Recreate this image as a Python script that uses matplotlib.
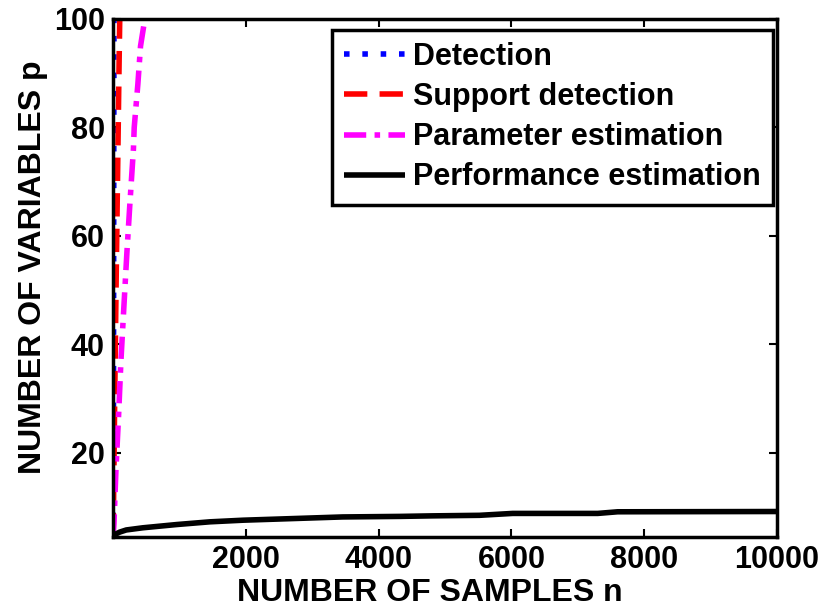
import matplotlib
matplotlib.use("Agg")
import matplotlib.pyplot as plt

# Sample-size requirements: number of samples n needed for p variables
p_levels = [4.6, 10, 20, 30, 40, 50, 60, 70, 80, 90, 100]
n_detection = [1, 4, 6, 8, 9, 10, 11, 12, 13, 14, 15]
n_support = [3, 8, 17, 26, 36, 46, 57, 68, 79, 90, 102]

p_param = [4.6, 7, 17, 27, 37, 46, 57, 66, 76, 80, 88, 95, 100]
n_param = [1, 15, 45, 85, 120, 160, 210, 255, 308, 320, 375, 415, 480]

# Performance estimation: p achievable as a function of n
n_perf = [0, 20, 100, 200, 450, 960, 1460, 1960, 2460, 2960, 3460, 4320,
          4810, 5520, 6020, 7300, 7600, 10000]
p_perf = [4.6, 4.9, 5.4, 5.8, 6.2, 6.8, 7.3, 7.6, 7.8, 8.0, 8.2, 8.3,
          8.4, 8.5, 8.85, 8.85, 9.15, 9.2]

x_ticks = [2000, 4000, 6000, 8000, 10000]
y_ticks = [20, 40, 60, 80, 100]

plt.rcParams['font.family'] = ['Liberation Sans', 'DejaVu Sans']
plt.rcParams['font.weight'] = 'bold'

fig = plt.figure(figsize=(8.21, 6.07), dpi=100)
ax = fig.add_axes([0.1376, 0.1153, 0.8088, 0.8534])

lw = 4
ax.plot(n_detection, p_levels, color='#0000ff', lw=lw, linestyle=(0, (1, 2.3)),
        label='Detection')
ax.plot(n_support, p_levels, color='#ff0000', lw=lw, linestyle=(0, (4.2, 2.2)),
        label='Support detection')
ax.plot(n_param, p_param, color='#ff00ff', lw=lw,
        linestyle=(0, (4, 1.5, 1, 1.5)), label='Parameter estimation')
ax.plot(n_perf, p_perf, color='black', lw=lw, solid_capstyle='butt',
        label='Performance estimation')

ax.set_xlim(0, 10000)
ax.set_ylim(4.5, 100)
ax.set_xticks(x_ticks)
ax.set_yticks(y_ticks)
ax.tick_params(direction='in', length=6, width=1.5, top=True, right=True,
               labelsize=22, pad=6)
for lab in ax.get_xticklabels() + ax.get_yticklabels():
    lab.set_fontweight('bold')
for sp in ax.spines.values():
    sp.set_linewidth(2.5)

ax.set_xlabel('NUMBER OF SAMPLES n', fontsize=23, fontweight='bold')
ax.set_ylabel('NUMBER OF VARIABLES p', fontsize=23, fontweight='bold')
ax.xaxis.set_label_coords(0.477, -0.08)
ax.yaxis.set_label_coords(-0.098, 0.521)

leg = ax.legend(loc='upper right', bbox_to_anchor=(0.994, 0.979),
                borderaxespad=0, fancybox=False, framealpha=1,
                edgecolor='black', handlelength=2.0,
                handletextpad=0.25, labelspacing=0.33, borderpad=0.4,
                prop={'weight': 'bold', 'size': 22})
leg.get_frame().set_linewidth(2.5)

fig.savefig('out.png', dpi=100)
